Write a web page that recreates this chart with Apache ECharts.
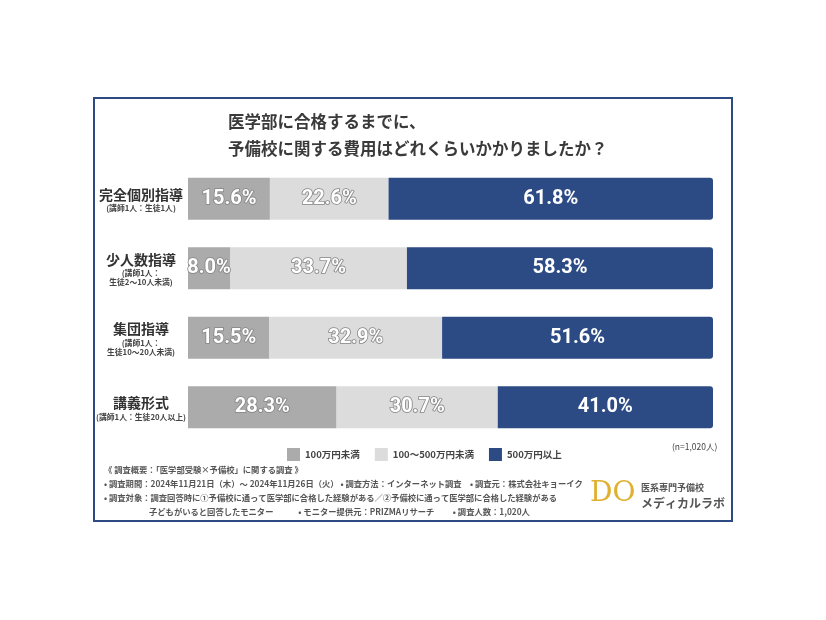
<!DOCTYPE html>
<html><head><meta charset="utf-8">
<script src="https://cdn.jsdelivr.net/npm/echarts@6/dist/echarts.min.js"></script>
<style>html,body{margin:0;padding:0;background:#fff}#c{width:826px;height:620px}</style>
</head><body><div id="c"></div>
<script>
const categories = ['完全個別指導', '少人数指導', '集団指導', '講義形式'];
const subLabels = ['(講師1人：生徒1人)', '(講師1人：\n生徒2〜10人未満)', '(講師1人：\n生徒10〜20人未満)', '(講師1人：生徒20人以上)'];
const seriesNames = ['100万円未満', '100〜500万円未満', '500万円以上'];
const under100 = [15.6, 8.0, 15.5, 28.3];
const mid100to500 = [22.6, 33.7, 32.9, 30.7];
const over500 = [61.8, 58.3, 51.6, 41.0];
const titleLines = ['医学部に合格するまでに、', '予備校に関する費用はどれくらいかかりましたか？'];
const noteN = '(n=1,020人)';
const footer = [
  '《 調査概要：「医学部受験×予備校」に関する調査 》',
  '• 調査期間：2024年11月21日（木）～ 2024年11月26日（火） • 調査方法：インターネット調査　• 調査元：株式会社キョーイク',
  '• 調査対象：調査回答時に①予備校に通って医学部に合格した経験がある／②予備校に通って医学部に合格した経験がある',
  '子どもがいると回答したモニター　　　• モニター提供元：PRIZMAリサーチ　　 • 調査人数：1,020人'
];

const FONT = '"Noto Sans CJK JP", "Noto Sans", sans-serif';
const NUMFONT = 'Roboto, "Liberation Sans", sans-serif';
const colors = ['#ababab', '#dcdcdc', '#2c4b85'];
const chart = echarts.init(document.getElementById('c'));

function outlineLabel() {
  return {show: true, position: 'inside', formatter: p => p.value.toFixed(1) + '%',
    color: '#ffffff', fontFamily: NUMFONT, fontWeight: 'bold', fontSize: 20,
    textBorderColor: '#858585', textBorderWidth: 1.6};
}
const data = [under100, mid100to500, over500];
const series = data.map((arr, i) => ({
  name: seriesNames[i], type: 'bar', stack: 'total', barWidth: 42,
  data: arr,
  itemStyle: {color: colors[i], borderRadius: i === 2 ? [0, 3, 3, 0] : 0},
  label: i === 2 ? {show: true, position: 'inside', formatter: p => p.value.toFixed(1) + '%',
    color: '#ffffff', fontFamily: NUMFONT, fontWeight: 'bold', fontSize: 20} : outlineLabel(),
  emphasis: {disabled: true}
}));

chart.setOption({
  animation: false,
  backgroundColor: '#fff',
  grid: {left: 188, right: 113, top: 164, height: 278},
  xAxis: {type: 'value', min: 0, max: 100, show: false},
  yAxis: {type: 'category', data: categories, inverse: true,
    axisLine: {show: false}, axisTick: {show: false},
    axisLabel: {margin: 47, align: 'center',
      formatter: (v, i) => '{a|' + v + '}\n{b|' + subLabels[i].split('\n').join('}\n{b|') + '}',
      rich: {
        a: {fontFamily: FONT, fontWeight: 'bold', fontSize: 14, color: '#333', lineHeight: 19, align: 'center'},
        b: {fontFamily: FONT, fontWeight: 'bold', fontSize: 7.8, color: '#444', lineHeight: 9, align: 'center'}
      }}},
  legend: {left: 282, top: 443, itemWidth: 13, itemHeight: 13, itemGap: 15, icon: 'rect',
    textStyle: {fontFamily: FONT, fontSize: 9.5, color: '#444', fontWeight: 'bold'},
    data: seriesNames},
  series: series,
  graphic: [
    {type: 'rect', shape: {x: 94, y: 98, width: 638, height: 423}, style: {fill: 'none', stroke: '#2d4a82', lineWidth: 2}, z: -1},
    {type: 'text', left: 228, top: 113, style: {text: titleLines[0], fontFamily: FONT, fontWeight: 'bold', fontSize: 16.5, fill: '#3a3a3a'}},
    {type: 'text', left: 228, top: 140, style: {text: titleLines[1], fontFamily: FONT, fontWeight: 'bold', fontSize: 16.5, fill: '#3a3a3a'}},
    {type: 'text', left: 672, top: 443, style: {text: noteN, fontFamily: FONT, fontSize: 8.5, fill: '#444'}},
    {type: 'text', left: 104, top: 466, style: {text: footer[0], fontFamily: FONT, fontSize: 8.3, fontWeight: 'bold', fill: '#555'}},
    {type: 'text', left: 104, top: 480, style: {text: footer[1], fontFamily: FONT, fontSize: 8.3, fontWeight: 'bold', fill: '#555'}},
    {type: 'text', left: 104, top: 494, style: {text: footer[2], fontFamily: FONT, fontSize: 8.3, fontWeight: 'bold', fill: '#555'}},
    {type: 'text', left: 149, top: 508, style: {text: footer[3], fontFamily: FONT, fontSize: 8.3, fontWeight: 'bold', fill: '#555'}},
    {type: 'text', left: 590, top: 480, style: {text: 'DO', fontFamily: 'DejaVu Serif', fontSize: 28, fill: '#e0b030'}},
    {type: 'text', left: 641, top: 483, style: {text: '医系専門予備校', fontFamily: FONT, fontSize: 9, fontWeight: 'bold', fill: '#555'}},
    {type: 'text', left: 641, top: 497, style: {text: 'メディカルラボ', fontFamily: FONT, fontSize: 12, fontWeight: 'bold', fill: '#555'}}
  ]
});
</script></body></html>
